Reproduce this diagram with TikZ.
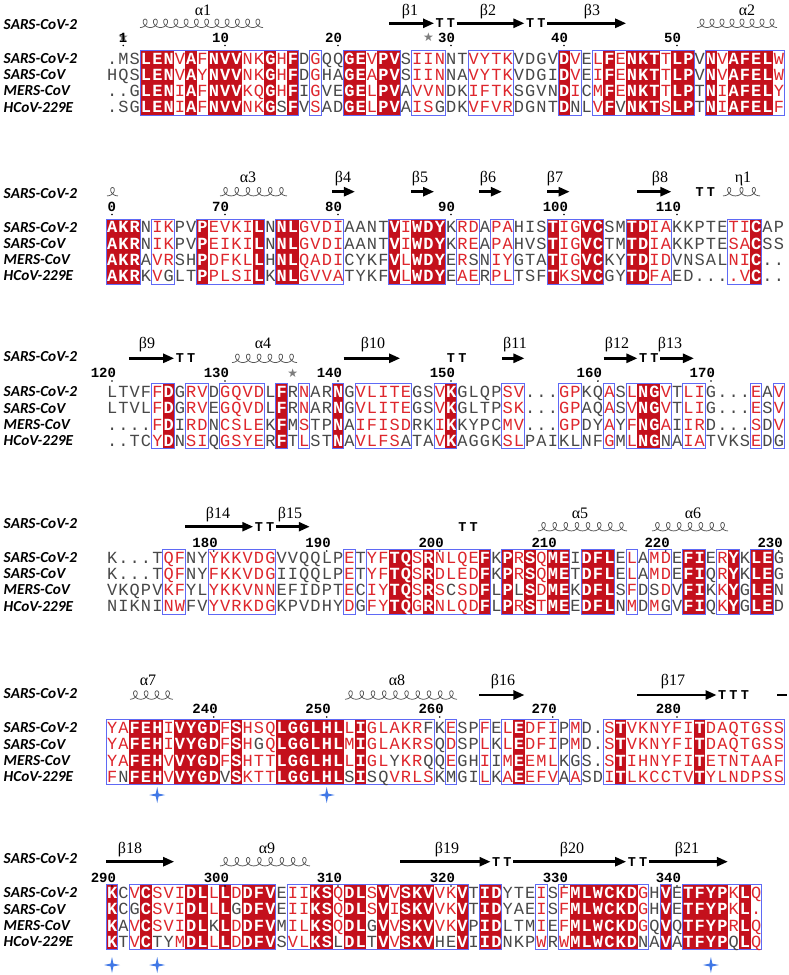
\documentclass[tikz,border=0pt]{standalone}
\usepackage{fontspec}
\usetikzlibrary{arrows.meta}
\newfontfamily\seqf{Liberation Mono}
\newfontfamily\labf{Carlito}
\newfontfamily\grkf{Liberation Serif}
\newfontfamily\symf{DejaVu Sans}
\definecolor{redbg}{RGB}{196,16,28}
\definecolor{redtxt}{RGB}{222,38,44}
\definecolor{graytxt}{RGB}{72,72,72}
\definecolor{framec}{RGB}{95,105,245}
\definecolor{helixc}{RGB}{85,85,85}
\definecolor{bstarc}{RGB}{65,120,230}
\definecolor{gstarc}{RGB}{125,125,125}
\newlength\colw \setlength\colw{11.3pt}
\newcount\rcnt
\makeatletter
\def\seqrow#1#2{\edef\clsrest{#2}\seq@loop#1\relax}
\def\seq@loop#1{\ifx#1\relax\else\expandafter\seq@pop\clsrest\relax\seq@char{#1}\expandafter\seq@loop\fi}
\def\seq@pop#1#2\relax{\def\curcls{#1}\def\clsrest{#2}}
\def\seq@char#1{\hbox to\colw{\hss
  \ifnum`#1>90 \def\seq@c{graytxt}\else
    \if R\curcls\def\seq@c{white}\else
      \if S\curcls\def\seq@c{redtxt}\else\def\seq@c{graytxt}\fi\fi\fi
  \color{\seq@c}\if R\curcls\bfseries\fi\uppercase{#1}\hss}}
\def\mkredlist#1{\rcnt=0 \def\redlist{0}\mk@loop#1\relax}
\def\mk@loop#1{\ifx#1\relax\else\advance\rcnt by 1 \if R#1\edef\redlist{\redlist,\the\rcnt}\fi\expandafter\mk@loop\fi}
\makeatother
\tikzset{
 seqtxt/.style={anchor=base west, inner sep=0pt, font=\seqf\fontsize{17}{17}\selectfont},
 rowlab/.style={anchor=base west, inner sep=0pt, font=\labf\bfseries\itshape\fontsize{15.3}{15.3}\selectfont},
 grk/.style={anchor=base, inner sep=0pt, font=\grkf\fontsize{16}{16}\selectfont},
 numst/.style={anchor=base east, inner sep=0pt, font=\seqf\bfseries\fontsize{14}{14}\selectfont},
 ttst/.style={anchor=base, inner sep=0pt, font=\seqf\bfseries\fontsize{13.5}{13.5}\selectfont},
 gst/.style={inner sep=0pt, text=gstarc, font=\symf\fontsize{12}{12}\selectfont},
 ssarrow/.style={line width=2.5pt, -{Triangle[length=11pt,width=9pt]}},
 ssline/.style={line width=2.5pt},
 helixl/.style={line width=0.75pt, draw=helixc},
 framel/.style={draw=framec, line width=0.9pt},
}
\newcommand\seqblock[8]{%
  \pgfmathsetmacro\btop{#2-8.1}%
  \pgfmathsetmacro\bbot{#2+3*16.2+8.1}%
  \mkredlist{#3}%
  \foreach \cc in \redlist {\ifnum\cc>0 \fill[redbg] ({112+(\cc-1)*11.3-5.8},\btop) rectangle ({112+(\cc-1)*11.3+5.8},\bbot);\fi}%
  \foreach \aa/\bb in {#8} {\draw[framel] ({112+(\aa-1)*11.3-5.65},\btop) rectangle ({112+(\bb-1)*11.3+5.65},\bbot);}%
  \node[seqtxt] (#1a) at (106.35,{#2+5.6}) {\seqrow{#4}{#3}};
  \node[seqtxt] (#1b) at (106.35,{#2+16.2+5.6}) {\seqrow{#5}{#3}};
  \node[seqtxt] (#1c) at (106.35,{#2+32.4+5.6}) {\seqrow{#6}{#3}};
  \node[seqtxt] (#1d) at (106.35,{#2+48.6+5.6}) {\seqrow{#7}{#3}};
  \node[rowlab] (#1la) at (3.5,{#2+4.9}) {SARS-CoV-2};
  \node[rowlab] (#1lb) at (3.5,{#2+16.2+4.9}) {SARS-CoV};
  \node[rowlab] (#1lc) at (3.5,{#2+32.4+4.9}) {MERS-CoV};
  \node[rowlab] (#1ld) at (3.5,{#2+48.6+4.9}) {HCoV-229E};
}
\newcommand\hdr[2]{\node[rowlab] (h#1) at (3.5,{#2+4.9}) {SARS-CoV-2};}
\newcommand\sarrow[3]{\draw[ssarrow] ({112+(#1-1)*11.3-5.65},#3) -- ({112+(#2-1)*11.3+5.65},#3);}
\newcommand\sts[3]{\foreach \kk in {1,...,#2}{\node[ttst] at ({112+(#1+\kk-2)*11.3},{#3+4.6}) {T};}}
\newcommand\shelix[4]{\pgfmathsetmacro\ha{(#2-#1)/(2*pi*#4)}\pgfmathsetmacro\he{180+360*#4}\pgfmathtruncatemacro\hs{30*#4+1}%
  \draw[helixl] plot[domain=180:\he,samples=\hs,smooth] ({#1+\ha*rad(\x-180)-4.2*sin(\x)},{#3-4.2*cos(\x)});}
\newcommand\slab[3]{\node[grk] at (#1,{#2+5.3}) {#3};}
\newcommand\snum[3]{\node[numst] at ({112+(#1-1)*11.3+4.2},{#3+4.6}) {#2};\fill ({112+(#1-1)*11.3},{#3+8}) circle (0.9pt);}
\newcommand\gstar[2]{\node[gst] at ({112+(#1-1)*11.3},#2) {★};}
\newcommand\bstar[2]{\fill[bstarc] ({#1},{#2-8}) -- ({#1+1.4},{#2-1.4}) -- ({#1+8},{#2}) -- ({#1+1.4},{#2+1.4}) -- ({#1},{#2+8}) -- ({#1-1.4},{#2+1.4}) -- ({#1-8},{#2}) -- ({#1-1.4},{#2-1.4}) -- cycle;}
\begin{document}
\begin{tikzpicture}[x=1pt,y=-1pt]
\useasboundingbox (0,0) rectangle (789,975);
\fill[white] (0,0) rectangle (789,975);
% ---------- block 1
\seqblock{A}{58.5}{NNNRRRSRSRRRSSRSRNSNNRRSRRNSSSNNSSSSNNNNRSNSRSRRRSRRNRSRRRRS}
{.MSLENVAFNVVNKGHFDGQQGEVPVSIINNTVYTKVDGVDVELFENKTTLPVNVAFELW}
{HQSLENVAYNVVNKGHFDGHAGEAPVSIINNAVYTKVDGIDVEIFENKTTLPVNVAFELW}
{..GLENIAFNVVKQGHFIGVEGELPVAVVNDKIFTKSGVNDICMFENKTTLPTNIAFELY}
{.SGLENIAFNVVNKGsFVSADGELPVAISgDKVFVRDGNTDnLVFvNKTSLPTNIAFELF}
{4/17,19/19,22/26,28/30,33/36,41/42,44/52,54/60}
\hdr{A}{25}
\shelix{140}{263}{23.3}{12}
\sarrow{26}{29}{23.3}\sts{30}{2}{23.3}\sarrow{32}{37}{23.3}\sts{38}{2}{23.3}\sarrow{40}{46}{23.3}
\shelix{697}{777}{23.3}{8}
\slab{203}{10}{α1}\slab{410}{10}{β1}\slab{488}{10}{β2}\slab{592}{10}{β3}\slab{747}{10}{α2}
\gstar{2}{37.5}\gstar{29}{37.5}
\snum{2}{1}{37.5}\snum{11}{10}{37.5}\snum{21}{20}{37.5}\snum{31}{30}{37.5}\snum{41}{40}{37.5}\snum{51}{50}{37.5}
% ---------- block 2
\seqblock{B}{227.3}{RRRNSSNNRSSSSRNRRSSSSNNNNRSRRRNSSNSSNNNRSSRRNNRRSSNNNNNSSRNN}
{AKRNIKPVPEVKILNNLGVDIAANTVIWDYKRDAPAHISTIGVCSMTDIAKKPTETICAP}
{AKRNIKPVPEIKILNNLGVDIAANTVIWDYKREAPAHVSTIGVCTMTDIAKKPTESACSS}
{AKRAVRSHPDFKLLHNLQADICYKFVLWDYERsNIYGTATIGVCKYTDIDVNSALNIC..}
{AKRKVgLTPPLSILKNLGVVATYKFVLWDYEAERPLTSFTKSVCGYTDFAED....VC..}
{1/3,5/6,9/14,16/21,26/30,32/33,35/36,40/44,47/50,56/58}
\hdr{B}{193.3}
\shelix{107}{118}{191.7}{1}\shelix{220}{287}{191.7}{6}
\sarrow{21}{22}{191.7}\sarrow{28}{29}{191.7}\sarrow{34}{35}{191.7}\sarrow{40}{41}{191.7}\sarrow{48}{50}{191.7}
\sts{53}{2}{191.7}\shelix{723}{760}{191.7}{3}
\slab{248}{177}{α3}\slab{343}{177}{β4}\slab{420}{177}{β5}\slab{488}{177}{β6}\slab{555}{177}{β7}\slab{660}{177}{β8}\slab{743}{177}{η1}
\snum{1}{0}{206.5}\snum{11}{70}{206.5}\snum{21}{80}{206.5}\snum{31}{90}{206.5}\snum{41}{100}{206.5}\snum{51}{110}{206.5}
% ---------- block 3
\seqblock{C}{392}{NNNNSRNSSNSSSSNRNSNNRNSSSSSNNSRNNNNSSNNNSSNNSNSRRSNSSNNNNSNS}
{LTVFFDGRVDGQVDLFRNARNGVLITEGSVKGLQPSV...GPKQASLNGVTLIG...EAV}
{LTVLFDGRVEGQVDLFRNARNGVLITEGSVKGLTPSK...GPAQASVNGVTLIG...ESV}
{....FDIRDNCSLEKFMSTPNAIFISDRKIKKYPCMV...GPDYAYFNGAIIRD...SDV}
{..TCYDNSIQGSYERFTLSTNAVLFSaTAVKAGGKSLPAIklNFGMLNGnAIATVKSEDg}
{5/6,8/9,11/14,16/16,18/18,21/21,23/27,30/31,36/37,41/42,45/45,47/50,52/53,58/58,60/60}
\hdr{C}{356.7}
\sarrow{3}{6}{358.3}\sts{7}{2}{358.3}\shelix{232}{297}{358.3}{6}\sarrow{22}{26}{358.3}\sts{31}{2}{358.3}
\sarrow{36}{37}{358.3}\sarrow{45}{47}{358.3}\sts{48}{2}{358.3}\sarrow{50}{52}{358.3}
\slab{147}{343.3}{β9}\slab{263}{343.3}{α4}\slab{373}{343.3}{β10}\slab{515}{343.3}{β11}\slab{617}{343.3}{β12}\slab{670}{343.3}{β13}
\gstar{17}{373}
\snum{1}{120}{373}\snum{11}{130}{373}\snum{21}{140}{373}\snum{31}{150}{373}\snum{44}{160}{373}\snum{54}{170}{373}
% ---------- block 4
\seqblock{D}{557.5}{NNNNNSSNNSSSSSSNNNNNNSNSSRRSRSSSSRNRSRSRRNRRRNSNSSNRRNSRNRRN}
{K...TQFNYYKKVDGVVQQLPETYFTQSRNLQEFKPRSQMEIDFLELAMDEFIERYKLEG}
{K...TQFNYFKKVDGIIQQLPETYFTQSRDLEDFKPRSQMETDFLELAMDEFIQRYKLEG}
{VKQPVKFYLYKKVNNEFIDPTECIYTQSRScSDFLPlSDMEKDFLSFDsDVFIKKYGLEN}
{NIKNINWFVYVRKDGKPVDHYDGFYTQGRNLQDFLPRSTMEEDFLNMDMgVFIQKYGLED}
{6/7,10/15,22/22,24/34,36/41,43/45,47/47,49/50,52/53,55/56,58/59}
\hdr{D}{523.3}
\sarrow{8}{13}{526.7}\sts{14}{2}{526.7}\sarrow{16}{18}{526.7}\sts{32}{2}{526.7}
\shelix{538}{627}{526.7}{8}\shelix{652}{728}{526.7}{7}
\slab{218}{513.3}{β14}\slab{290}{513.3}{β15}\slab{580}{513.3}{α5}\slab{693}{513.3}{α6}
\snum{10}{180}{543}\snum{20}{190}{543}\snum{30}{200}{543}\snum{40}{210}{543}\snum{50}{220}{543}\snum{60}{230}{543}
% ---------- block 5
\seqblock{E}{728}{SSRRRSRRRRSRSSSRRRRRRSRSSSSSSNSNNSNSRSSSNSNNSRSSSSSSRSSSSSSS}
{YAFEHIVYGDFSHSQLGGLHLLIGLAKRfKESPFELEDFIPMD.STVKNYFITDAQTGSS}
{YAFEHIVYGDFSHgQLGGLHLMIGLAKRSQDSPLKLEDFIPMD.STVKNYFITDAQTGSS}
{YAFEHVVYGDFSHTTLGGLHLLIGLyKRqQEGHIIMEEMLKgS.STIHNYFITETNTAAF}
{FnFEHVVYGDvSKTTLGGLHLsIsqVRLSKmGILKAEEFVAASDITLKCCTVTYLNDPSS}
{1/29,31/31,34/34,36/40,42/42,45/60}
\hdr{E}{693.3}
\shelix{130}{173}{695}{4}\shelix{345}{457}{695}{10}\sarrow{34}{37}{695}\sarrow{48}{54}{695}\sts{55}{3}{695}
\coordinate (dashA) at (777,695);\coordinate (dashB) at (787,695);\draw[ssline] (dashA) -- (dashB);
\slab{148}{680}{α7}\slab{397}{680}{α8}\slab{503}{680}{β16}\slab{673}{680}{β17}
\snum{10}{240}{709}\snum{20}{250}{709}\snum{30}{260}{709}\snum{40}{270}{709}\snum{51}{280}{709}
\bstar{157.2}{795}\bstar{326.7}{795}
% ---------- block 6
\seqblock{F}{893}{RNSRSSSRRSRSRRRNSSRRSRRSRSRRRSSRNRRNNNSNSRRRRRRSNRNRRRRSRS}
{KCVCSVIDLLLDDFVEIIKSQDLSVVSKVVKVTIDYTEISFMLWCKDGHVETFYPKLQ}
{KCgCSVIDLLLgDFVEIIKSQDLSVISKVVKVTIDYAEISFMLWCKDGHVETFYPKL.}
{KAVCSVIDLkLDDFVMILKSQDLgVVSKVVKVPIDLTMIEFMLWCKDGQVQTFYPRLQ}
{KTVCtyMDLLLDDFVSVLKSlDLtVVSKVheVIIDNKPWRWMLWCKDnAVATFYPqLQ}
{1/1,3/15,17/32,34/35,39/39,41/48,50/50,52/58}
\hdr{F}{858.3}
\sarrow{1}{6}{861.7}\shelix{220}{310}{861.7}{8}\sarrow{27}{34}{861.7}\sts{35}{2}{861.7}\sarrow{37}{46}{861.7}\sts{47}{2}{861.7}\sarrow{49}{55}{861.7}
\slab{130}{848}{β18}\slab{267}{848}{α9}\slab{447}{848}{β19}\slab{572}{848}{β20}\slab{687}{848}{β21}
\snum{1}{290}{878}\snum{11}{300}{878}\snum{21}{310}{878}\snum{31}{320}{878}\snum{41}{330}{878}\snum{51}{340}{878}
\bstar{112}{965}\bstar{157.2}{965}\bstar{710.9}{965}
\end{tikzpicture}
\end{document}
